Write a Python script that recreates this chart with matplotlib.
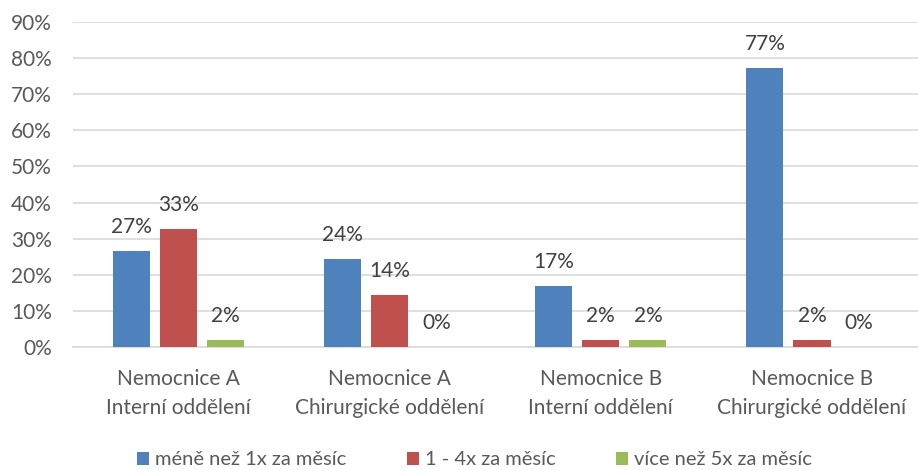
import numpy as np
import matplotlib.pyplot as plt

plt.rcParams['font.family'] = ['Lato', 'DejaVu Sans']

categories = ['Nemocnice A\nInterní oddělení', 'Nemocnice A\nChirurgické oddělení',
              'Nemocnice B\nInterní oddělení', 'Nemocnice B\nChirurgické oddělení']
series_names = ['méně než 1x za měsíc', '1 - 4x za měsíc', 'více než 5x za měsíc']
mene = [26.6, 24.4, 17.0, 77.4]
stredne = [32.6, 14.3, 1.9, 1.9]
vice = [1.9, 0.0, 1.9, 0.0]
colors = ['#4f81bd', '#c0504d', '#9bbb59']

fig = plt.figure(figsize=(9.18, 4.7), dpi=100)
ax = fig.add_axes([0.0795, 0.2617, 0.92, 0.6913])

x = np.arange(len(categories))
w = 0.176
step = 0.223
for i, (vals, col, name) in enumerate(zip([mene, stredne, vice], colors, series_names)):
    pos = x + (i - 1) * step
    bars = ax.bar(pos, vals, width=w, color=col, label=name, zorder=3)
    for b, v in zip(bars, vals):
        ax.annotate('%d%%' % round(v), (b.get_x() + b.get_width() / 2, v),
                    xytext=(0, 10), textcoords='offset points', ha='center', va='bottom',
                    fontsize=15, color='#404040')

ax.set_xlim(-0.5, 3.5)
ax.set_ylim(0, 90)
ax.set_yticks(np.arange(0, 91, 10))
ax.set_yticklabels(['%d%%' % t for t in range(0, 91, 10)])
ax.set_xticks(x)
ax.set_xticklabels(categories, linespacing=1.55)
ax.grid(axis='y', color='#d9d9d9', linewidth=1.2, zorder=0)
for s in ['top', 'right', 'left']:
    ax.spines[s].set_visible(False)
ax.spines['bottom'].set_color('#d9d9d9')
ax.spines['bottom'].set_linewidth(1.2)
ax.tick_params(axis='both', length=0, colors='#595959', labelsize=15)
ax.tick_params(axis='x', pad=16)
ax.tick_params(axis='y', pad=15)

fig.legend(loc='lower center', bbox_to_anchor=(0.517, -0.035), ncol=3, frameon=False,
           fontsize=14.5, handlelength=0.6, handleheight=0.6, handletextpad=0.3,
           columnspacing=3.0, labelcolor='#595959')

fig.savefig('out.png', dpi=100)
